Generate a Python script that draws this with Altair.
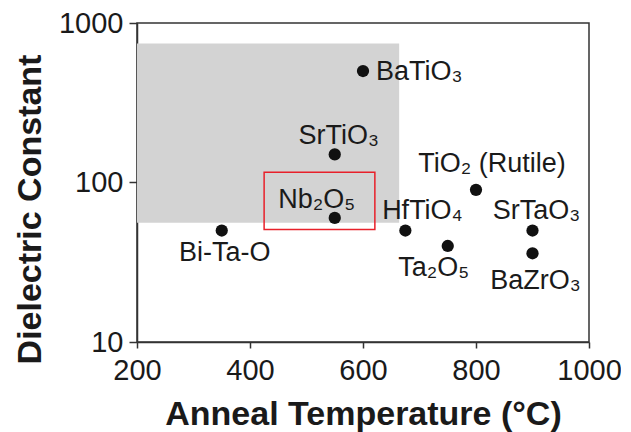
import altair as alt
import pandas as pd

# ---- data ----
materials = ["BaTiO₃", "SrTiO₃", "Nb₂O₅", "Bi-Ta-O", "TiO₂ (Rutile)", "HfTiO₄", "Ta₂O₅", "SrTaO₃", "BaZrO₃"]
anneal_temp = [600, 550, 550, 350, 800, 675, 750, 900, 900]
dielectric = [500, 150, 60, 50, 90, 50, 40, 50, 36]

region_x = [200, 664]
region_y = [56, 743]
box_x = [425, 621]
box_y = [50.7, 116]

x_ticks = [200, 400, 600, 800, 1000]
y_ticks = [10, 100, 1000]

FONT = "Liberation Sans"
TICK_FS = 29

df = pd.DataFrame({"material": materials, "temp": anneal_temp, "k": dielectric})
region = pd.DataFrame({"x": [region_x[0]], "x2": [region_x[1]], "y": [region_y[0]], "y2": [region_y[1]]})
box = pd.DataFrame({"x": [box_x[0]], "x2": [box_x[1]], "y": [box_y[0]], "y2": [box_y[1]]})

xs = alt.Scale(domain=[200, 1000], nice=False, zero=False)
ys = alt.Scale(type="log", domain=[10, 1000], nice=False)

x_axis = alt.Axis(values=x_ticks, grid=False, format="d", title="Anneal Temperature (°C)", tickSize=6,
                  labelPadding=8, titlePadding=12, offset=0, labelFlush=False,
                  labelFontSize=TICK_FS, titleFontSize=34)
y_axis = alt.Axis(values=y_ticks, grid=False, format="d", title="Dielectric Constant", tickSize=8,
                  labelPadding=6, titlePadding=11, titleY=186, offset=0, labelFlush=False,
                  labelFontSize=TICK_FS, titleFontSize=34)

shade = alt.Chart(region).mark_rect(color="#d3d3d3").encode(
    x=alt.X("x:Q", scale=xs, axis=x_axis), x2="x2",
    y=alt.Y("y:Q", scale=ys, axis=y_axis), y2="y2")

redbox = alt.Chart(box).mark_rect(fill=None, stroke="#e8202a", strokeWidth=1.5).encode(
    x=alt.X("x:Q", scale=xs), x2="x2", y=alt.Y("y:Q", scale=ys), y2="y2")

points = alt.Chart(df).mark_point(filled=True, color="#111111", size=150, opacity=1).encode(
    x=alt.X("temp:Q", scale=xs), y=alt.Y("k:Q", scale=ys))

# label placement (styles): align, dx, dy
offsets = {
    "BaTiO₃": ("left", 13, 9),
    "SrTiO₃": ("center", 4, -10),
    "Nb₂O₅": ("center", -18, -10),
    "Bi-Ta-O": ("center", 3, 30),
    "TiO₂ (Rutile)": ("center", 16, -18),
    "HfTiO₄": ("center", 17, -12),
    "Ta₂O₅": ("center", -14, 30),
    "SrTaO₃": ("center", 4, -12),
    "BaZrO₃": ("center", 3, 36),
}

labels = []
for m in materials:
    al, dx, dy = offsets[m]
    labels.append(
        alt.Chart(df).transform_filter(alt.datum.material == m).mark_text(
            align=al, baseline="alphabetic", dx=dx, dy=dy, font=FONT, fontSize=27, color="#1a1a1a"
        ).encode(x=alt.X("temp:Q", scale=xs), y=alt.Y("k:Q", scale=ys), text="material:N")
    )

chart = alt.layer(shade, redbox, points, *labels).properties(
    width=452, height=319,
    autosize=alt.AutoSizeParams(type="none"),
    padding={"left": 129, "top": 15, "right": 32, "bottom": 90},
).configure_view(stroke="#333333", strokeWidth=1.5).configure_axis(
    domainColor="#333333", domainWidth=1.5, tickColor="#333333", tickWidth=1.5,
    labelFont=FONT, labelColor="#1a1a1a",
    titleFont=FONT, titleFontWeight="bold", titleColor="#1a1a1a",
)

chart.save("out.html", embed_options={"renderer": "svg", "actions": False})
